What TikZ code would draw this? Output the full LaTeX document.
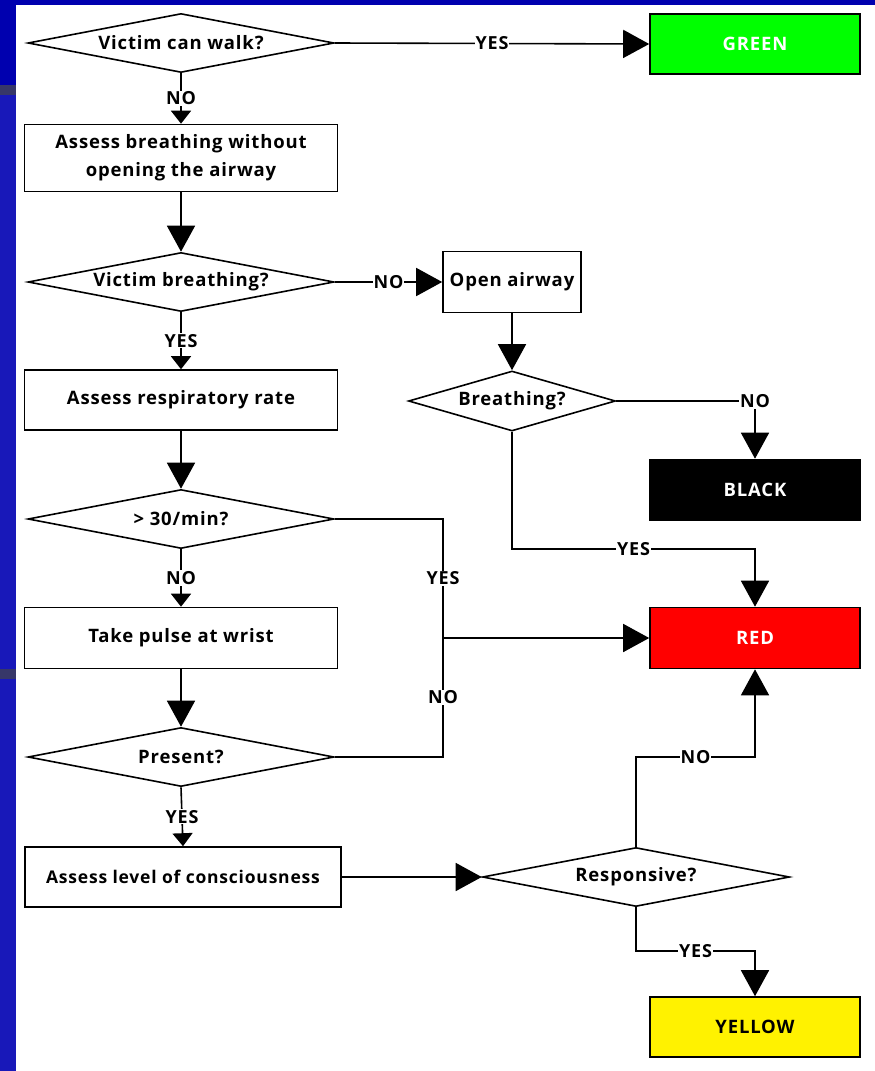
\documentclass[tikz,border=0pt]{standalone}
\usepackage{fontspec}
\setmainfont[LetterSpace=4.5]{Open Sans}
\usetikzlibrary{arrows.meta,shapes.geometric}
\definecolor{slidenavy}{RGB}{0,0,175}
\definecolor{slideblue}{RGB}{24,24,185}
\definecolor{slidegrey}{RGB}{55,55,105}

\begin{document}
\begin{tikzpicture}[x=1pt, y=-1pt, line width=1.6pt,
	every node/.style={font=\bfseries\fontsize{18.5}{28}\selectfont},
	box/.style={draw, rectangle, minimum width=313pt, minimum height=60pt, inner sep=0pt, align=center},
	dec/.style={draw, diamond, aspect=5, minimum width=306pt, minimum height=59pt, inner sep=0pt},
	tag/.style={draw, rectangle, minimum width=210pt, minimum height=60pt, inner sep=0pt, text=white},
	lbl/.style={fill=white, inner sep=1pt, font=\bfseries\fontsize{18}{21}\selectfont},
	arr/.style={-{Triangle[length=26pt,width=28pt]}},
	sarr/.style={-{Triangle[length=13pt,width=20pt]}}]
	\useasboundingbox (0,0) rectangle (875,1071);
	\fill[slidenavy] (0,0) rectangle (875,5); \fill[slidenavy] (0,0) rectangle (16,85);
	\fill[slideblue] (0,95) rectangle (16,1071);
	\fill[slidegrey] (0,85) rectangle (16,95); \fill[slidegrey] (0,669) rectangle (16,679);
	\node[dec] (walk) at (181,43) {Victim can walk?};
	\node[tag, fill=green] (green) at (755,44) {GREEN};
	\node[box, minimum height=67pt] (assess) at (181,158) {Assess breathing without\\opening the airway};
	\node[dec] (vbreath) at (181,282) {Victim breathing?};
	\node[box, minimum width=138pt, minimum height=61pt] (open) at (512,282) {Open airway};
	\node[dec, minimum width=207pt, minimum height=60pt] (breath) at (512,401) {Breathing?};
	\node[tag, fill=black, minimum height=61pt] (black) at (755,490) {BLACK};
	\node[box] (resp) at (181,400) {Assess respiratory rate};
	\node[dec] (rate) at (181,519) {> 30/min?};
	\node[box, minimum height=61pt] (pulse) at (181,638) {Take pulse at wrist};
	\node[tag, fill=red, minimum height=61pt] (red) at (755,638) {RED};
	\node[dec] (pres) at (181,757) {Present?};
	\node[box, minimum width=316pt, font=\bfseries\fontsize{17.5}{21}\selectfont] (cons) at (183,877) {Assess level of consciousness};
	\node[dec, minimum width=307pt] (react) at (636,877) {Responsive?};
	\node[tag, fill=yellow, text=black] (yellow) at (755,1027) {YELLOW};
	\coordinate (jn) at (443,638); \coordinate (jb) at (755,549);
	\coordinate (jr) at (755,757); \coordinate (jy) at (755,951);
	\draw[arr] (walk.east) -- node[lbl] {YES} (green.west);
	\draw[sarr] (walk.south) -- node[lbl] {NO} (assess.north);
	\draw[arr] (assess.south) -- (vbreath.north);
	\draw[arr] (vbreath.east) -- node[lbl] {NO} (open.west);
	\draw[sarr] (vbreath.south) -- node[lbl] {YES} (resp.north);
	\draw[arr] (open.south) -- (breath.north);
	\draw[arr] (breath.east) -| node[lbl] {NO} (black.north);
	\draw[arr] (breath.south) |- node[lbl, pos=0.75] {YES} (jb) -- (red.north);
	\draw[arr] (resp.south) -- (rate.north);
	\draw (rate.east) -| node[lbl, pos=0.75] {YES} (jn);
	\draw[sarr] (rate.south) -- node[lbl] {NO} (pulse.north);
	\draw[arr] (pulse.south) -- (pres.north);
	\draw (pres.east) -| node[lbl, pos=0.75] {NO} (jn);
	\draw[arr] (jn) -- (red.west);
	\draw[sarr] (pres.south) -- node[lbl] {YES} (cons.north);
	\draw[arr] (cons.east) -- (react.west);
	\draw[arr] (react.north) |- node[lbl, pos=0.75] {NO} (jr) -- (red.south);
	\draw[arr] (react.south) |- node[lbl, pos=0.75] {YES} (jy) -- (yellow.north);
\end{tikzpicture}
\end{document}
